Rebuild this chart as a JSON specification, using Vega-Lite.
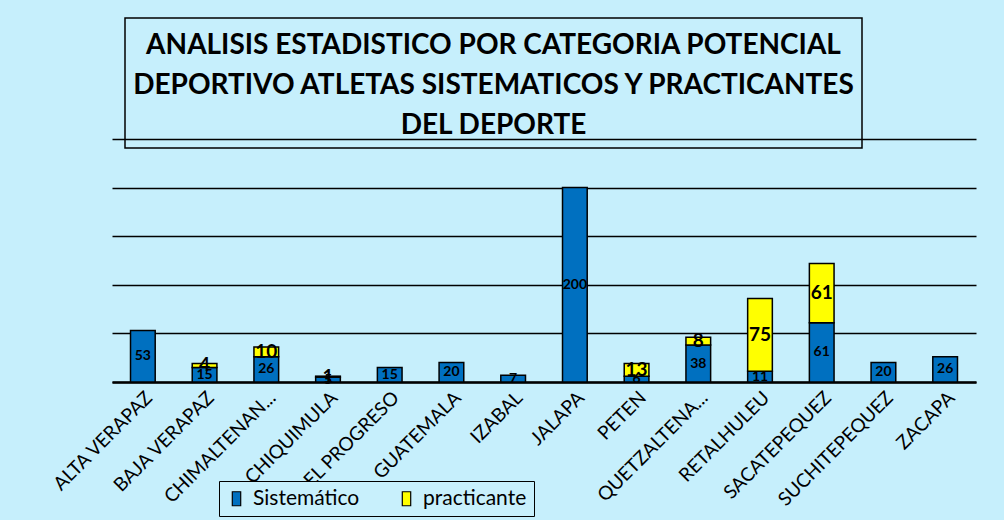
{
  "$schema": "https://vega.github.io/schema/vega-lite/v6.json",
  "background": "#c6effc",
  "padding": {"left": 49, "top": 17, "right": 28, "bottom": 4},
  "bounds": "flush",
  "spacing": 121,
  "datasets": {
    "titulo": [
      {"linea": 1, "texto": "ANALISIS ESTADISTICO POR CATEGORIA POTENCIAL"},
      {"linea": 2, "texto": "DEPORTIVO ATLETAS SISTEMATICOS Y PRACTICANTES"},
      {"linea": 3, "texto": "DEL DEPORTE"}
    ],
    "datos": [
      {"depto": "ALTA VERAPAZ", "tipo": "Sistemático", "n": 53},
      {"depto": "BAJA VERAPAZ", "tipo": "Sistemático", "n": 15},
      {"depto": "BAJA VERAPAZ", "tipo": "practicante", "n": 4},
      {"depto": "CHIMALTENAN...", "tipo": "Sistemático", "n": 26},
      {"depto": "CHIMALTENAN...", "tipo": "practicante", "n": 10},
      {"depto": "CHIQUIMULA", "tipo": "Sistemático", "n": 5},
      {"depto": "CHIQUIMULA", "tipo": "practicante", "n": 1},
      {"depto": "EL PROGRESO", "tipo": "Sistemático", "n": 15},
      {"depto": "GUATEMALA", "tipo": "Sistemático", "n": 20},
      {"depto": "IZABAL", "tipo": "Sistemático", "n": 7},
      {"depto": "JALAPA", "tipo": "Sistemático", "n": 200},
      {"depto": "PETEN", "tipo": "Sistemático", "n": 6},
      {"depto": "PETEN", "tipo": "practicante", "n": 13},
      {"depto": "QUETZALTENA...", "tipo": "Sistemático", "n": 38},
      {"depto": "QUETZALTENA...", "tipo": "practicante", "n": 8},
      {"depto": "RETALHULEU", "tipo": "Sistemático", "n": 11},
      {"depto": "RETALHULEU", "tipo": "practicante", "n": 75},
      {"depto": "SACATEPEQUEZ", "tipo": "Sistemático", "n": 61},
      {"depto": "SACATEPEQUEZ", "tipo": "practicante", "n": 61},
      {"depto": "SUCHITEPEQUEZ", "tipo": "Sistemático", "n": 20},
      {"depto": "ZACAPA", "tipo": "Sistemático", "n": 26}
    ]
  },
  "vconcat": [
    {
      "hconcat": [
        {
          "width": 1,
          "height": 130,
          "data": {"values": [{"t": ""}]},
          "view": {"stroke": null, "fill": null},
          "mark": {"type": "text"},
          "encoding": {"text": {"field": "t"}}
        },
        {
          "width": 737,
          "height": 130,
          "data": {"name": "titulo"},
          "view": {"stroke": "#000000", "strokeWidth": 1.5, "fill": null},
          "mark": {"type": "text", "font": "Lato", "fontWeight": "bold", "fontSize": 28, "color": "#000000", "baseline": "middle", "align": "center"},
          "encoding": {
            "y": {"field": "linea", "type": "ordinal", "axis": null, "scale": {"range": [28, 108], "padding": 0}},
            "text": {"field": "texto"}
          }
        }
      ],
      "spacing": 11
    },
    {
      "width": 864,
      "height": 243,
      "data": {"name": "datos"},
      "view": {"stroke": null, "fill": null},
      "transform": [
        {"stack": "n", "groupby": ["depto"], "sort": [{"field": "tipo", "order": "ascending"}], "as": ["s0", "s1"]}
      ],
      "layer": [
        {
          "mark": {"type": "bar", "stroke": "#000000", "strokeWidth": 1.5},
          "encoding": {
            "x": {"field": "depto", "type": "nominal", "sort": null,
              "scale": {"paddingInner": 0.6, "paddingOuter": 0.3},
              "axis": {"title": null, "labelAngle": -45, "labelFontSize": 19, "labelFont": "Lato", "labelColor": "#000000", "labelPadding": 6, "ticks": false, "domainColor": "#000000", "domainWidth": 2.5, "labelLimit": 250}},
            "y": {"field": "s0", "type": "quantitative",
              "scale": {"domain": [0, 250], "nice": false},
              "axis": {"title": null, "labels": false, "ticks": false, "domain": false, "values": [0, 50, 100, 150, 200, 250], "gridColor": "#000000", "gridWidth": 1.5, "gridOpacity": 1}},
            "y2": {"field": "s1"},
            "color": {"field": "tipo", "type": "nominal",
              "scale": {"domain": ["Sistemático", "practicante"], "range": ["#0070c0", "#ffff00"]},
              "legend": {"title": null, "orient": "none", "legendX": 107, "legendY": 463, "direction": "horizontal",
                "symbolType": "M-0.6,-1H0.6V1H-0.6Z", "symbolSize": 196, "symbolStrokeColor": "#000000", "symbolStrokeWidth": 1.2,
                "labelFontSize": 21, "labelFont": "Lato", "labelColor": "#000000", "columnPadding": 36, "labelOffset": 6,
                "strokeColor": "#000000", "fillColor": "#c8f0fc", "padding": 7}}
          }
        },
        {
          "transform": [
            {"fold": ["s0", "s1"], "as": ["borde", "pos"]}
          ],
          "mark": {"type": "text", "font": "Lato", "fontWeight": "bold", "color": "#000000", "baseline": "middle"},
          "encoding": {
            "x": {"field": "depto", "type": "nominal", "sort": null},
            "y": {"field": "pos", "type": "quantitative", "aggregate": "mean", "stack": null},
            "detail": {"field": "tipo"},
            "text": {"field": "n", "type": "quantitative"},
            "size": {"condition": {"test": "datum.tipo === 'practicante'", "value": 19}, "value": 14}
          }
        }
      ]
    }
  ]
}
